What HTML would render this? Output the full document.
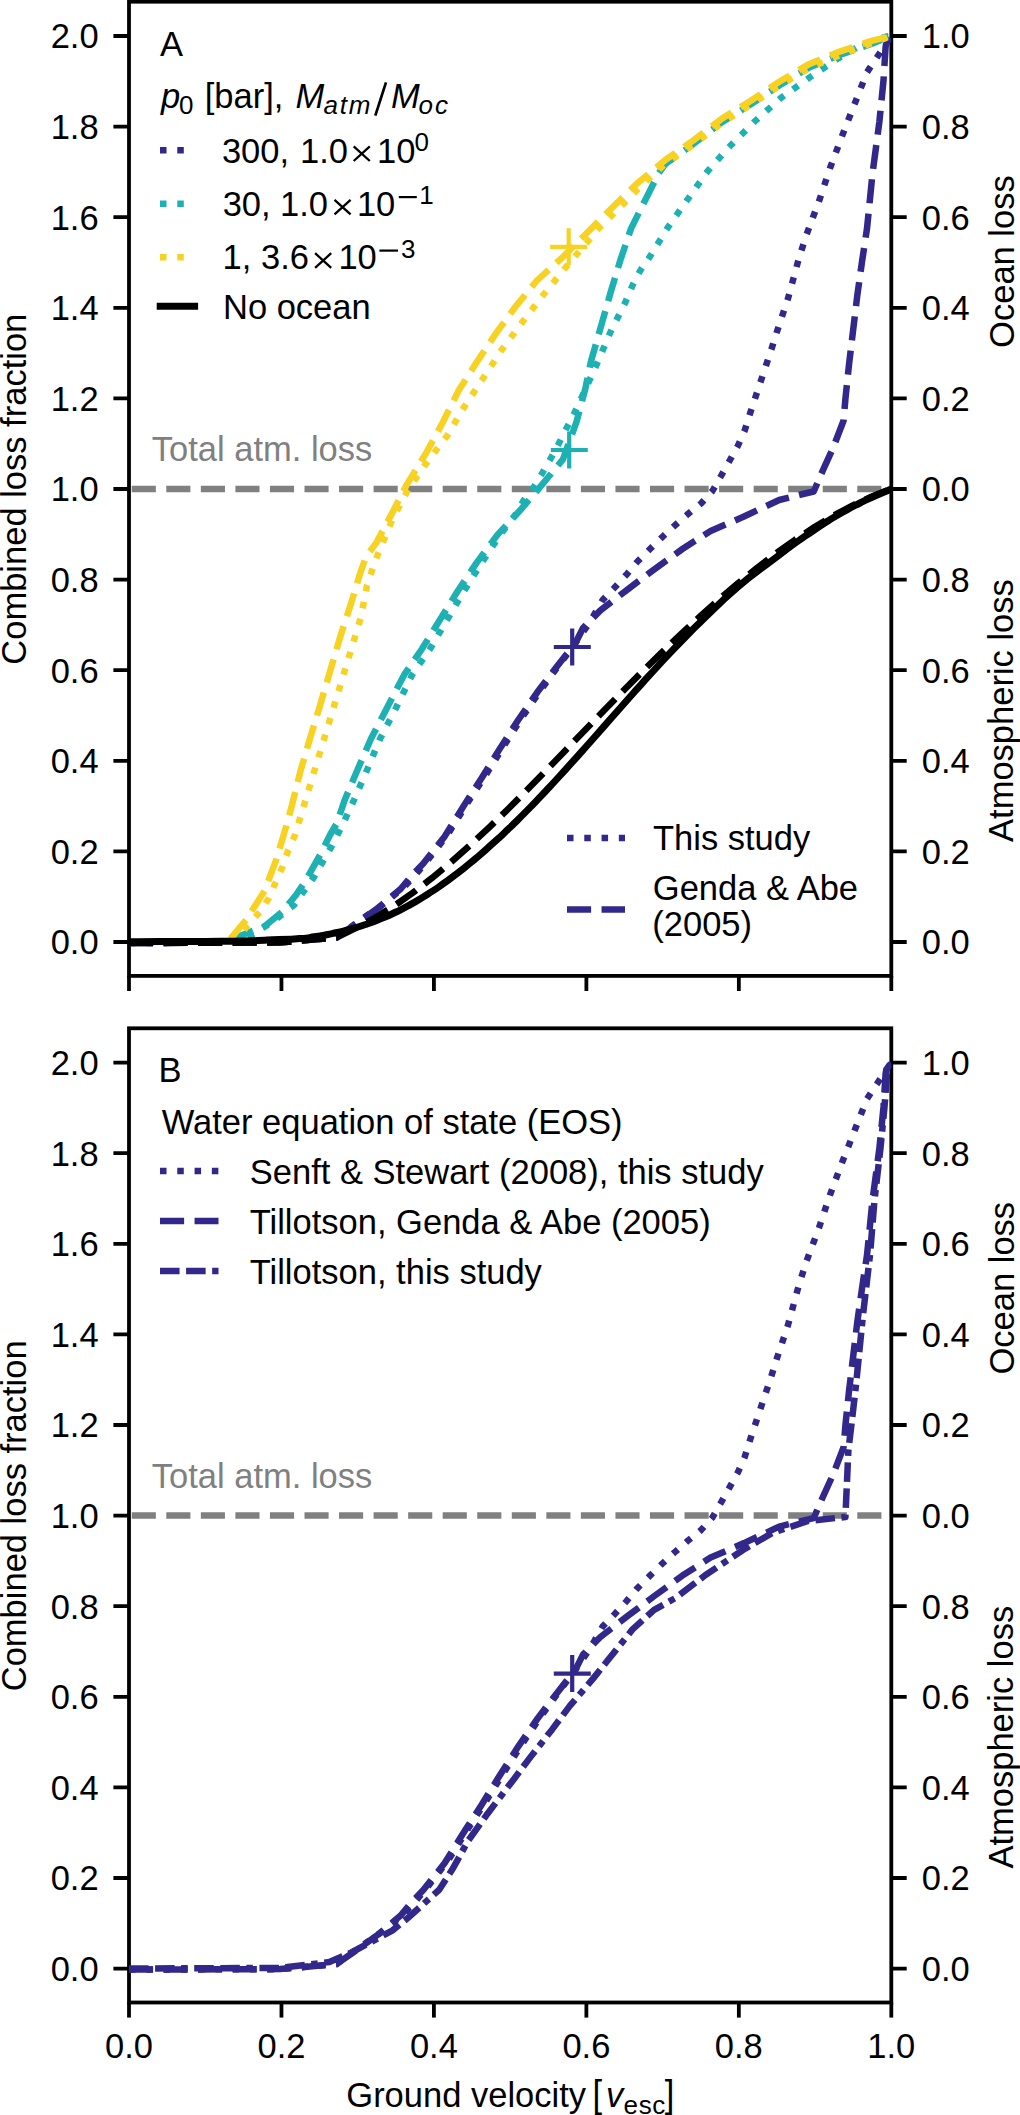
<!DOCTYPE html>
<html><head><meta charset="utf-8"><style>
html,body{margin:0;padding:0;background:#fff;}
svg{display:block;}
text{font-family:"Liberation Sans",sans-serif;}
</style></head><body>
<svg width="1020" height="2115" viewBox="0 0 1020 2115">
<defs><clipPath id="ca"><rect x="129" y="1.7" width="762.3" height="974.2"/></clipPath><clipPath id="cb"><rect x="129" y="1028.3" width="762.3" height="974.2"/></clipPath></defs>
<rect width="1020" height="2115" fill="#fff"/>
<rect x="129" y="1.7" width="762.3" height="974.1999999999999" fill="none" stroke="#000" stroke-width="3.8" stroke-linejoin="miter"/>
<path d="M113.4,942.00H129M891.3,942.00H906.6999999999999" stroke="#000" stroke-width="3.8"/>
<text x="98.6" y="954.40" font-size="34.5" fill="#000" text-anchor="end">0.0</text>
<text x="921.8" y="954.40" font-size="34.5" fill="#000" text-anchor="start">0.0</text>
<path d="M113.4,851.40H129M891.3,851.40H906.6999999999999" stroke="#000" stroke-width="3.8"/>
<text x="98.6" y="863.80" font-size="34.5" fill="#000" text-anchor="end">0.2</text>
<text x="921.8" y="863.80" font-size="34.5" fill="#000" text-anchor="start">0.2</text>
<path d="M113.4,760.80H129M891.3,760.80H906.6999999999999" stroke="#000" stroke-width="3.8"/>
<text x="98.6" y="773.20" font-size="34.5" fill="#000" text-anchor="end">0.4</text>
<text x="921.8" y="773.20" font-size="34.5" fill="#000" text-anchor="start">0.4</text>
<path d="M113.4,670.20H129M891.3,670.20H906.6999999999999" stroke="#000" stroke-width="3.8"/>
<text x="98.6" y="682.60" font-size="34.5" fill="#000" text-anchor="end">0.6</text>
<text x="921.8" y="682.60" font-size="34.5" fill="#000" text-anchor="start">0.6</text>
<path d="M113.4,579.60H129M891.3,579.60H906.6999999999999" stroke="#000" stroke-width="3.8"/>
<text x="98.6" y="592.00" font-size="34.5" fill="#000" text-anchor="end">0.8</text>
<text x="921.8" y="592.00" font-size="34.5" fill="#000" text-anchor="start">0.8</text>
<path d="M113.4,489.00H129M891.3,489.00H906.6999999999999" stroke="#000" stroke-width="3.8"/>
<text x="98.6" y="501.40" font-size="34.5" fill="#000" text-anchor="end">1.0</text>
<text x="921.8" y="501.40" font-size="34.5" fill="#000" text-anchor="start">0.0</text>
<path d="M113.4,398.40H129M891.3,398.40H906.6999999999999" stroke="#000" stroke-width="3.8"/>
<text x="98.6" y="410.80" font-size="34.5" fill="#000" text-anchor="end">1.2</text>
<text x="921.8" y="410.80" font-size="34.5" fill="#000" text-anchor="start">0.2</text>
<path d="M113.4,307.80H129M891.3,307.80H906.6999999999999" stroke="#000" stroke-width="3.8"/>
<text x="98.6" y="320.20" font-size="34.5" fill="#000" text-anchor="end">1.4</text>
<text x="921.8" y="320.20" font-size="34.5" fill="#000" text-anchor="start">0.4</text>
<path d="M113.4,217.20H129M891.3,217.20H906.6999999999999" stroke="#000" stroke-width="3.8"/>
<text x="98.6" y="229.60" font-size="34.5" fill="#000" text-anchor="end">1.6</text>
<text x="921.8" y="229.60" font-size="34.5" fill="#000" text-anchor="start">0.6</text>
<path d="M113.4,126.60H129M891.3,126.60H906.6999999999999" stroke="#000" stroke-width="3.8"/>
<text x="98.6" y="139.00" font-size="34.5" fill="#000" text-anchor="end">1.8</text>
<text x="921.8" y="139.00" font-size="34.5" fill="#000" text-anchor="start">0.8</text>
<path d="M113.4,36.00H129M891.3,36.00H906.6999999999999" stroke="#000" stroke-width="3.8"/>
<text x="98.6" y="48.40" font-size="34.5" fill="#000" text-anchor="end">2.0</text>
<text x="921.8" y="48.40" font-size="34.5" fill="#000" text-anchor="start">1.0</text>
<path d="M129.00,975.9V991.0" stroke="#000" stroke-width="3.8"/>
<path d="M281.46,975.9V991.0" stroke="#000" stroke-width="3.8"/>
<path d="M433.92,975.9V991.0" stroke="#000" stroke-width="3.8"/>
<path d="M586.38,975.9V991.0" stroke="#000" stroke-width="3.8"/>
<path d="M738.84,975.9V991.0" stroke="#000" stroke-width="3.8"/>
<path d="M891.30,975.9V991.0" stroke="#000" stroke-width="3.8"/>
<text transform="translate(26.2,489.2) rotate(-90)" font-size="34.5" text-anchor="middle">Combined loss fraction</text>
<text transform="translate(1013.5,261.6) rotate(-90)" font-size="34.5" text-anchor="middle">Ocean loss</text>
<text transform="translate(1012.8,710.6) rotate(-90)" font-size="34.5" text-anchor="middle">Atmospheric loss</text>
<text x="151.75" y="461.25" font-size="34.5" fill="#808080" text-anchor="start">Total atm. loss</text>
<line x1="129" y1="489" x2="891.3" y2="489" stroke="#808080" stroke-width="6.52" stroke-dasharray="24.12 10.43" stroke-dashoffset="31.81"/>
<polyline points="129.0,943.0 280.0,942.5 336.5,937.5 362.0,919.0 381.0,906.0 404.0,887.0 416.0,874.0 427.0,861.0 448.0,834.0 469.0,800.5 484.5,777.0 502.5,748.0 521.0,719.0 540.0,691.0 559.0,665.0 574.0,645.0 590.0,622.0 602.6,600.0 614.4,587.8 626.3,574.8 637.0,562.0 650.0,549.0 662.0,537.3 674.5,525.8 687.5,514.4 701.0,503.5 712.4,491.0 721.0,476.0 729.7,460.5 738.0,445.5 744.7,430.4 750.1,413.2 755.5,397.0 760.9,380.8 766.3,364.6 771.7,348.4 777.1,331.2 782.5,315.0 787.9,298.8 792.2,283.0 799.0,258.0 806.7,234.1 819.0,201.2 830.0,168.2 842.3,135.3 854.7,103.7 867.0,72.2 878.0,55.7 891.0,36.0" fill="none" stroke="#32288c" stroke-width="6.52" stroke-linejoin="round" stroke-linecap="butt" stroke-dasharray="6.52 10.76" clip-path="url(#ca)"/>
<polyline points="129.0,943.0 280.0,942.5 336.5,937.5 360.0,921.0 378.0,908.0 400.6,889.0 411.4,876.0 423.3,863.5 444.7,836.4 465.9,802.4 481.2,778.8 499.4,749.4 518.2,720.0 537.6,691.8 556.5,667.1 566.0,655.0 574.5,645.0 583.0,628.0 600.4,610.4 628.4,588.8 654.3,569.4 682.4,549.0 710.6,531.0 744.0,516.5 779.2,500.0 803.0,494.0 813.7,491.5 822.4,471.4 833.2,447.7 843.6,420.5 845.4,398.9 849.0,364.6 853.1,330.4 857.2,296.1 862.0,261.8 867.0,228.6 872.5,173.7 879.4,121.6 883.5,80.4 885.6,47.0 887.5,36.0" fill="none" stroke="#32288c" stroke-width="6.52" stroke-linejoin="round" stroke-linecap="butt" stroke-dasharray="24.12 10.43" clip-path="url(#ca)"/>
<polyline points="129.0,942.5 243.0,942.0 250.0,936.0 275.0,920.0 294.0,905.0 314.0,877.0 331.0,847.5 342.0,826.0 354.0,800.0 367.0,770.0 380.0,739.0 396.0,708.0 412.0,675.0 430.0,649.0 447.0,620.0 464.0,591.0 482.0,562.4 500.0,535.0 516.0,514.0 523.5,500.6 533.5,487.6 542.4,472.9 551.2,457.6 559.4,442.4 567.1,427.1 574.7,412.4 585.0,390.0 595.9,366.1 610.6,331.8 625.3,302.4 632.6,285.2 640.0,271.0 650.2,256.1 668.0,227.2 687.3,199.8 707.8,171.0 729.8,146.3 754.5,121.6 780.6,98.2 809.4,77.6 838.2,58.4 861.6,44.7 886.3,36.5 891.0,36.0" fill="none" stroke="#1db1b3" stroke-width="6.52" stroke-linejoin="round" stroke-linecap="butt" stroke-dasharray="6.52 10.76" clip-path="url(#ca)"/>
<polyline points="129.0,942.5 235.0,942.0 240.0,936.0 265.0,926.0 282.0,912.0 296.0,895.0 306.0,880.0 320.0,855.0 330.0,835.0 337.0,823.0 344.5,800.6 357.3,770.2 371.0,738.8 386.7,708.4 404.1,674.9 422.0,648.8 439.8,620.0 457.6,591.2 476.9,562.4 497.4,534.9 520.8,509.5 537.2,490.5 562.9,459.4 576.5,421.8 585.3,388.8 591.0,361.2 600.8,326.9 610.6,292.5 620.4,260.0 631.0,228.6 647.4,195.7 658.4,173.7 665.3,164.0 692.7,144.5 721.6,122.5 750.4,104.5 779.2,85.5 809.4,67.5 839.6,55.0 872.5,43.5 891.0,36.0" fill="none" stroke="#1db1b3" stroke-width="6.52" stroke-linejoin="round" stroke-linecap="butt" stroke-dasharray="24.12 10.43" clip-path="url(#ca)"/>
<polyline points="129.0,942.5 235.0,942.0 240.0,936.0 247.0,926.0 259.8,912.2 268.6,898.4 275.5,882.7 282.4,867.1 288.2,850.4 295.1,834.7 301.0,815.0 311.0,782.0 321.0,749.0 331.0,716.0 341.0,683.0 351.0,650.0 361.0,617.0 367.0,585.3 372.4,569.4 378.2,553.5 393.0,518.0 408.0,490.0 425.0,465.0 440.0,445.0 447.0,436.0 463.5,408.0 483.1,378.3 501.5,350.1 522.4,322.0 543.2,295.0 565.2,268.0 598.3,228.8 624.1,203.1 638.0,189.0 665.0,164.0 693.0,145.0 722.0,123.0 750.0,105.0 779.0,86.0 809.0,68.0 840.0,55.0 872.0,43.0 891.0,36.0" fill="none" stroke="#f8d222" stroke-width="6.52" stroke-linejoin="round" stroke-linecap="butt" stroke-dasharray="6.52 10.76" clip-path="url(#ca)"/>
<polyline points="129.0,942.5 229.0,942.0 231.4,937.6 246.1,920.0 264.7,890.6 276.5,859.2 286.3,825.9 292.0,805.0 300.4,771.2 310.2,737.8 320.0,705.5 329.8,672.2 339.6,638.8 350.4,605.5 360.2,573.1 365.9,557.0 376.9,541.8 392.5,512.4 406.0,485.9 426.8,451.9 442.7,422.5 458.6,390.6 475.8,363.6 495.4,334.2 515.0,307.3 537.1,280.3 561.6,258.2 586.1,233.7 610.6,209.2 637.0,183.5 665.3,160.0 692.7,140.8 721.6,118.8 750.4,101.0 779.2,81.8 809.4,63.9 839.6,51.6 872.5,40.6 891.0,36.0" fill="none" stroke="#f8d222" stroke-width="6.52" stroke-linejoin="round" stroke-linecap="butt" stroke-dasharray="24.12 10.43" clip-path="url(#ca)"/>
<polyline points="129.0,943.0 280.0,942.5 336.5,937.5 355.6,928.0 374.7,917.9 393.9,906.1 413.0,892.7 432.1,877.9 451.2,862.0 470.3,845.0 489.5,827.1 508.6,808.5 527.7,789.3 546.8,769.7 565.9,749.9 585.1,730.0 604.2,710.2 623.3,690.7 642.4,671.5 661.6,652.7 680.7,634.4 699.8,616.7 718.9,599.6 738.0,583.3 757.2,567.8 776.3,553.2 795.4,539.6 814.5,527.1 833.6,515.6 852.8,505.4 871.9,496.5 891.0,489.0" fill="none" stroke="#000" stroke-width="6.52" stroke-linejoin="round" stroke-linecap="butt" stroke-dasharray="24.12 10.43" clip-path="url(#ca)"/>
<path d="M129.00,941.70C139.33,941.67 139.67,941.67 160.00,941.60C180.33,941.53 170.00,941.60 190.00,941.50C210.00,941.40 200.00,941.53 220.00,941.30C240.00,941.07 230.33,941.40 250.00,940.80C269.67,940.20 262.33,940.23 279.00,939.50C295.67,938.77 287.67,939.60 300.00,938.60C312.33,937.60 305.33,938.17 316.00,936.50C326.67,934.83 321.33,935.83 332.00,933.60C342.67,931.37 337.33,932.67 348.00,929.80C358.67,926.93 353.33,928.57 364.00,925.00C374.67,921.43 369.33,923.43 380.00,919.10C390.67,914.77 385.33,917.17 396.00,912.00C406.67,906.83 401.33,909.60 412.00,903.60C422.67,897.60 417.33,900.80 428.00,894.00C438.67,887.20 433.33,890.80 444.00,883.20C454.67,875.60 449.33,879.53 460.00,871.20C470.67,862.87 465.33,867.20 476.00,858.20C486.67,849.20 481.33,853.80 492.00,844.20C502.67,834.60 497.33,839.60 508.00,829.40C518.67,819.20 513.33,824.33 524.00,813.60C534.67,802.87 529.33,808.40 540.00,797.20C550.67,786.00 545.33,791.60 556.00,780.00C566.67,768.40 561.33,774.23 572.00,762.40C582.67,750.57 577.33,756.50 588.00,744.50C598.67,732.50 593.33,738.50 604.00,726.40C614.67,714.30 609.33,720.27 620.00,708.20C630.67,696.13 625.33,702.10 636.00,690.20C646.67,678.30 641.33,684.17 652.00,672.50C662.67,660.83 657.33,666.53 668.00,655.20C678.67,643.87 673.33,649.43 684.00,638.50C694.67,627.57 689.33,632.90 700.00,622.40C710.67,611.90 705.33,617.07 716.00,607.00C726.67,596.93 721.33,601.67 732.00,592.20C742.67,582.73 737.33,587.17 748.00,578.60C758.67,570.03 753.33,574.53 764.00,566.50C774.67,558.47 769.33,562.50 780.00,554.50C790.67,546.50 785.33,550.17 796.00,542.50C806.67,534.83 801.33,538.67 812.00,531.50C822.67,524.33 817.33,527.67 828.00,521.00C838.67,514.33 833.33,517.50 844.00,511.50C854.67,505.50 849.33,508.33 860.00,503.00C870.67,497.67 865.57,500.13 876.00,495.50C886.43,490.87 886.20,491.23 891.30,489.10" fill="none" stroke="#000" stroke-width="7.0" stroke-linejoin="round" stroke-linecap="square" clip-path="url(#ca)"/>
<path d="M550.2,246.8H587.2M568.7,228.3V265.3" stroke="#f8d222" stroke-width="4.2" fill="none"/>
<path d="M550.8,450.0H587.8M569.2,431.5V468.5" stroke="#1db1b3" stroke-width="4.2" fill="none"/>
<path d="M553.8,647.0H590.8M572.2,628.5V665.5" stroke="#32288c" stroke-width="4.2" fill="none"/>
<text x="160" y="56.25" font-size="34.5" fill="#000" text-anchor="start">A</text>
<text x="161.0" y="107.6" font-size="34.5" font-style="italic">p</text>
<text x="179.0" y="113.8" font-size="26">0</text>
<text x="204.75" y="107.6" font-size="34.5">[bar],</text>
<text x="295.4" y="107.6" font-size="34.5" font-style="italic">M</text>
<text x="323.4" y="113.5" font-size="26" font-style="italic" letter-spacing="1.8">atm</text>
<path d="M375.3,115.6L386,82.4" stroke="#000" stroke-width="2.7" fill="none"/>
<text x="390.9" y="107.6" font-size="34.5" font-style="italic">M</text>
<text x="418.5" y="113.5" font-size="26" font-style="italic" letter-spacing="2">oc</text>
<line x1="160" y1="150.3" x2="194.5" y2="150.3" stroke="#32288c" stroke-width="6.52" stroke-dasharray="6.52 10.76"/>
<line x1="160" y1="203.7" x2="194.5" y2="203.7" stroke="#1db1b3" stroke-width="6.52" stroke-dasharray="6.52 10.76"/>
<line x1="160" y1="257.3" x2="194.5" y2="257.3" stroke="#f8d222" stroke-width="6.52" stroke-dasharray="6.52 10.76"/>
<text x="221.9" y="162.5" font-size="34.5" fill="#000" text-anchor="start">300,</text>
<text x="300.1" y="162.5" font-size="34.5" fill="#000" text-anchor="start">1.0</text>
<path d="M353.7,146.4L369.8,161.0M369.8,146.4L353.7,161.0" stroke="#000" stroke-width="2.3" fill="none"/>
<text x="377.0" y="162.5" font-size="34.5" fill="#000" text-anchor="start">10</text>
<text x="414.6" y="150.7" font-size="26">0</text>
<text x="222.7" y="215.9" font-size="34.5" fill="#000" text-anchor="start">30,</text>
<text x="280.0" y="215.9" font-size="34.5" fill="#000" text-anchor="start">1.0</text>
<path d="M334.5,199.8L350.6,214.4M350.6,199.8L334.5,214.4" stroke="#000" stroke-width="2.3" fill="none"/>
<text x="356.9" y="215.9" font-size="34.5" fill="#000" text-anchor="start">10</text>
<rect x="398.8" y="196.0" width="18.0" height="2.2" fill="#000"/>
<text x="419.3" y="204.1" font-size="26">1</text>
<text x="222.5" y="269.3" font-size="34.5" fill="#000" text-anchor="start">1,</text>
<text x="261.0" y="269.3" font-size="34.5" fill="#000" text-anchor="start">3.6</text>
<path d="M315.1,253.2L331.2,267.8M331.2,253.2L315.1,267.8" stroke="#000" stroke-width="2.3" fill="none"/>
<text x="338.4" y="269.3" font-size="34.5" fill="#000" text-anchor="start">10</text>
<rect x="379.4" y="249.5" width="18.6" height="2.2" fill="#000"/>
<text x="400.9" y="257.5" font-size="26">3</text>
<line x1="160.2" y1="306.2" x2="194.6" y2="306.2" stroke="#000" stroke-width="7.0" stroke-linecap="square"/>
<text x="223.0" y="318.8" font-size="34.5" fill="#000" text-anchor="start">No ocean</text>
<line x1="567" y1="838" x2="625" y2="838" stroke="#32288c" stroke-width="6.52" stroke-dasharray="6.52 10.76"/>
<line x1="567" y1="909.6" x2="625" y2="909.6" stroke="#32288c" stroke-width="6.52" stroke-dasharray="24.12 10.43"/>
<text x="653.0" y="850" font-size="34.5" fill="#000" text-anchor="start">This study</text>
<text x="652.8" y="899.5" font-size="34.5" fill="#000" text-anchor="start">Genda &amp; Abe</text>
<text x="652.3" y="936" font-size="34.5" fill="#000" text-anchor="start">(2005)</text>
<rect x="129" y="1028.3" width="762.3" height="974.2" fill="none" stroke="#000" stroke-width="3.8" stroke-linejoin="miter"/>
<path d="M113.4,1968.60H129M891.3,1968.60H906.6999999999999" stroke="#000" stroke-width="3.8"/>
<text x="98.6" y="1981.00" font-size="34.5" fill="#000" text-anchor="end">0.0</text>
<text x="921.8" y="1981.00" font-size="34.5" fill="#000" text-anchor="start">0.0</text>
<path d="M113.4,1878.00H129M891.3,1878.00H906.6999999999999" stroke="#000" stroke-width="3.8"/>
<text x="98.6" y="1890.40" font-size="34.5" fill="#000" text-anchor="end">0.2</text>
<text x="921.8" y="1890.40" font-size="34.5" fill="#000" text-anchor="start">0.2</text>
<path d="M113.4,1787.40H129M891.3,1787.40H906.6999999999999" stroke="#000" stroke-width="3.8"/>
<text x="98.6" y="1799.80" font-size="34.5" fill="#000" text-anchor="end">0.4</text>
<text x="921.8" y="1799.80" font-size="34.5" fill="#000" text-anchor="start">0.4</text>
<path d="M113.4,1696.80H129M891.3,1696.80H906.6999999999999" stroke="#000" stroke-width="3.8"/>
<text x="98.6" y="1709.20" font-size="34.5" fill="#000" text-anchor="end">0.6</text>
<text x="921.8" y="1709.20" font-size="34.5" fill="#000" text-anchor="start">0.6</text>
<path d="M113.4,1606.20H129M891.3,1606.20H906.6999999999999" stroke="#000" stroke-width="3.8"/>
<text x="98.6" y="1618.60" font-size="34.5" fill="#000" text-anchor="end">0.8</text>
<text x="921.8" y="1618.60" font-size="34.5" fill="#000" text-anchor="start">0.8</text>
<path d="M113.4,1515.60H129M891.3,1515.60H906.6999999999999" stroke="#000" stroke-width="3.8"/>
<text x="98.6" y="1528.00" font-size="34.5" fill="#000" text-anchor="end">1.0</text>
<text x="921.8" y="1528.00" font-size="34.5" fill="#000" text-anchor="start">0.0</text>
<path d="M113.4,1425.00H129M891.3,1425.00H906.6999999999999" stroke="#000" stroke-width="3.8"/>
<text x="98.6" y="1437.40" font-size="34.5" fill="#000" text-anchor="end">1.2</text>
<text x="921.8" y="1437.40" font-size="34.5" fill="#000" text-anchor="start">0.2</text>
<path d="M113.4,1334.40H129M891.3,1334.40H906.6999999999999" stroke="#000" stroke-width="3.8"/>
<text x="98.6" y="1346.80" font-size="34.5" fill="#000" text-anchor="end">1.4</text>
<text x="921.8" y="1346.80" font-size="34.5" fill="#000" text-anchor="start">0.4</text>
<path d="M113.4,1243.80H129M891.3,1243.80H906.6999999999999" stroke="#000" stroke-width="3.8"/>
<text x="98.6" y="1256.20" font-size="34.5" fill="#000" text-anchor="end">1.6</text>
<text x="921.8" y="1256.20" font-size="34.5" fill="#000" text-anchor="start">0.6</text>
<path d="M113.4,1153.20H129M891.3,1153.20H906.6999999999999" stroke="#000" stroke-width="3.8"/>
<text x="98.6" y="1165.60" font-size="34.5" fill="#000" text-anchor="end">1.8</text>
<text x="921.8" y="1165.60" font-size="34.5" fill="#000" text-anchor="start">0.8</text>
<path d="M113.4,1062.60H129M891.3,1062.60H906.6999999999999" stroke="#000" stroke-width="3.8"/>
<text x="98.6" y="1075.00" font-size="34.5" fill="#000" text-anchor="end">2.0</text>
<text x="921.8" y="1075.00" font-size="34.5" fill="#000" text-anchor="start">1.0</text>
<path d="M129.00,2002.5V2017.6" stroke="#000" stroke-width="3.8"/>
<text x="129.00" y="2057.80" font-size="34.5" fill="#000" text-anchor="middle">0.0</text>
<path d="M281.46,2002.5V2017.6" stroke="#000" stroke-width="3.8"/>
<text x="281.46" y="2057.80" font-size="34.5" fill="#000" text-anchor="middle">0.2</text>
<path d="M433.92,2002.5V2017.6" stroke="#000" stroke-width="3.8"/>
<text x="433.92" y="2057.80" font-size="34.5" fill="#000" text-anchor="middle">0.4</text>
<path d="M586.38,2002.5V2017.6" stroke="#000" stroke-width="3.8"/>
<text x="586.38" y="2057.80" font-size="34.5" fill="#000" text-anchor="middle">0.6</text>
<path d="M738.84,2002.5V2017.6" stroke="#000" stroke-width="3.8"/>
<text x="738.84" y="2057.80" font-size="34.5" fill="#000" text-anchor="middle">0.8</text>
<path d="M891.30,2002.5V2017.6" stroke="#000" stroke-width="3.8"/>
<text x="891.30" y="2057.80" font-size="34.5" fill="#000" text-anchor="middle">1.0</text>
<text transform="translate(26.2,1515.8) rotate(-90)" font-size="34.5" text-anchor="middle">Combined loss fraction</text>
<text transform="translate(1013.5,1288.2) rotate(-90)" font-size="34.5" text-anchor="middle">Ocean loss</text>
<text transform="translate(1012.8,1737.2) rotate(-90)" font-size="34.5" text-anchor="middle">Atmospheric loss</text>
<text x="151.75" y="1487.85" font-size="34.5" fill="#808080" text-anchor="start">Total atm. loss</text>
<line x1="129" y1="1515.6" x2="891.3" y2="1515.6" stroke="#808080" stroke-width="6.52" stroke-dasharray="24.12 10.43" stroke-dashoffset="31.81"/>
<polyline points="129.0,1969.6 280.0,1969.1 336.5,1964.1 362.0,1945.6 381.0,1932.6 404.0,1913.6 416.0,1900.6 427.0,1887.6 448.0,1860.6 469.0,1827.1 484.5,1803.6 502.5,1774.6 521.0,1745.6 540.0,1717.6 559.0,1691.6 574.0,1671.6 590.0,1648.6 602.6,1626.6 614.4,1614.4 626.3,1601.4 637.0,1588.6 650.0,1575.6 662.0,1563.9 674.5,1552.4 687.5,1541.0 701.0,1530.1 712.4,1517.6 721.0,1502.6 729.7,1487.1 738.0,1472.1 744.7,1457.0 750.1,1439.8 755.5,1423.6 760.9,1407.4 766.3,1391.2 771.7,1375.0 777.1,1357.8 782.5,1341.6 787.9,1325.4 792.2,1309.6 799.0,1284.6 806.7,1260.7 819.0,1227.8 830.0,1194.8 842.3,1161.9 854.7,1130.3 867.0,1098.8 878.0,1082.3 891.0,1062.6" fill="none" stroke="#32288c" stroke-width="6.52" stroke-linejoin="round" stroke-linecap="butt" stroke-dasharray="6.52 10.76" clip-path="url(#cb)"/>
<polyline points="129.0,1969.6 280.0,1969.1 336.5,1964.1 360.0,1947.6 378.0,1934.6 400.6,1915.6 411.4,1902.6 423.3,1890.1 444.7,1863.0 465.9,1829.0 481.2,1805.4 499.4,1776.0 518.2,1746.6 537.6,1718.4 556.5,1693.7 566.0,1681.6 574.5,1671.6 583.0,1654.6 600.4,1637.0 628.4,1615.4 654.3,1596.0 682.4,1575.6 710.6,1557.6 744.0,1543.1 779.2,1526.6 803.0,1520.6 813.7,1518.1 822.4,1498.0 833.2,1474.3 843.6,1447.1 845.4,1425.5 849.0,1391.2 853.1,1357.0 857.2,1322.7 862.0,1288.4 867.0,1255.2 872.5,1200.3 879.4,1148.2 883.5,1107.0 885.6,1073.6 887.5,1062.6" fill="none" stroke="#32288c" stroke-width="6.52" stroke-linejoin="round" stroke-linecap="butt" stroke-dasharray="24.12 10.43" clip-path="url(#cb)"/>
<polyline points="129.0,1968.5 280.0,1968.0 329.4,1962.0 351.4,1952.5 371.8,1941.6 392.2,1930.6 407.8,1918.0 423.5,1903.9 439.2,1889.8 453.3,1867.8 467.8,1841.2 487.5,1813.7 512.9,1780.4 530.6,1756.9 552.2,1729.4 569.8,1705.9 593.3,1678.4 609.0,1658.8 632.5,1629.4 654.1,1609.8 675.5,1598.0 705.5,1575.0 743.0,1550.0 773.0,1532.5 808.0,1521.0 845.4,1517.0 848.4,1450.0 852.0,1420.0 856.0,1385.0 859.5,1350.0 863.0,1315.0 866.5,1285.0 870.0,1255.0 874.5,1200.0 880.5,1148.0 884.5,1107.0 887.0,1074.0 891.0,1062.5" fill="none" stroke="#32288c" stroke-width="6.52" stroke-linejoin="round" stroke-linecap="butt" stroke-dasharray="19.56 6.52 19.56 6.52 6.52 6.52" clip-path="url(#cb)"/>
<path d="M553.8,1673.6H590.8M572.2,1655.1V1692.1" stroke="#32288c" stroke-width="4.2" fill="none"/>
<text x="158.6" y="1082.25" font-size="34.5" fill="#000" text-anchor="start">B</text>
<text x="161.75" y="1133.5" font-size="34.5" fill="#000" text-anchor="start">Water equation of state (EOS)</text>
<line x1="160" y1="1171" x2="218.5" y2="1171" stroke="#32288c" stroke-width="6.52" stroke-dasharray="6.52 10.76"/>
<text x="249.75" y="1183.5" font-size="34.5" fill="#000" text-anchor="start">Senft &amp; Stewart (2008), this study</text>
<line x1="160" y1="1221" x2="218.5" y2="1221" stroke="#32288c" stroke-width="6.52" stroke-dasharray="24.12 10.43"/>
<text x="249.75" y="1233.5" font-size="34.5" fill="#000" text-anchor="start">Tillotson, Genda &amp; Abe (2005)</text>
<line x1="160" y1="1271" x2="218.5" y2="1271" stroke="#32288c" stroke-width="6.52" stroke-dasharray="19.56 6.52 19.56 6.52 6.52 6.52"/>
<text x="249.75" y="1283.5" font-size="34.5" fill="#000" text-anchor="start">Tillotson, this study</text>
<text x="346.3" y="2107.3" font-size="34.5">Ground velocity</text>
<text x="592.5" y="2107.3" font-size="34.5" transform="translate(0,2107.3) scale(1,1.1) translate(0,-2107.3)">[</text>
<text x="606.0" y="2107.3" font-size="34.5" font-style="italic">v</text>
<text x="623.6" y="2113.5" font-size="26" letter-spacing="0.6">esc</text>
<text x="664.7" y="2107.3" font-size="34.5" transform="translate(0,2107.3) scale(1,1.1) translate(0,-2107.3)">]</text>
</svg>
</body></html>
